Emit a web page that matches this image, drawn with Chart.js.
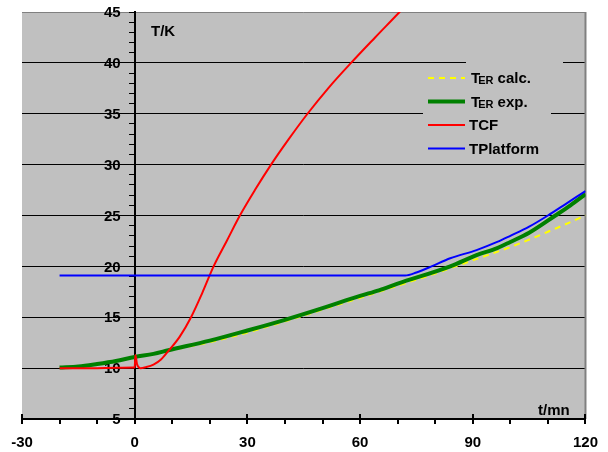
<!DOCTYPE html>
<html>
<head>
<meta charset="utf-8">
<script src="https://cdn.jsdelivr.net/npm/chart.js@4.4.0/dist/chart.umd.min.js"></script>
<style>
  html, body { margin: 0; padding: 0; background: #fff; }
  canvas { display: block; }
</style>
</head>
<body>
<canvas id="chart" width="608" height="452"></canvas>
<script>
// Values (t in mn, T in K)
const calcTime = [0, 10, 20, 30, 40, 50, 60, 70, 80, 90, 100, 110, 120];
const calcTemp = [11.1, 11.8, 12.55, 13.5, 14.6, 15.75, 16.9, 18.1, 19.3, 20.6, 21.9, 23.4, 25.0];

const expTime = [-20, -15, -10, -5, 0, 5, 9, 20, 30, 40, 50, 60, 65, 70, 84, 91, 96.5, 100, 105, 112, 116, 120];
const expTemp = [10.05, 10.15, 10.4, 10.7, 11.1, 11.4, 11.76, 12.7, 13.7, 14.75, 15.9, 17.1, 17.65, 18.3, 20.0, 21.1, 21.8, 22.4, 23.3, 25.0, 26.0, 27.1];

const tcfTime = [-20, -10, -0.3, 0, 0.2, 0.6, 1.5, 3, 5, 7, 9, 12, 15, 18, 21, 24.5, 28, 32, 36.3, 41, 46, 51.5, 57.6, 64, 70.5, 73];
const tcfTemp = [10.0, 10.0, 10.05, 10.1, 11.3, 10.4, 10.0, 10.1, 10.35, 10.85, 11.7, 13.1, 15.0, 17.4, 20.0, 22.5, 25.0, 27.5, 30.0, 32.5, 35.0, 37.5, 40.0, 42.5, 45.0, 46.0];

const platTime = [-20, 55, 72, 75, 79, 84, 91, 96.5, 100, 105, 110, 115, 120];
const platTemp = [19.1, 19.1, 19.1, 19.4, 20.0, 20.8, 21.6, 22.4, 23.0, 23.9, 25.0, 26.2, 27.4];

const xTickLabels = [-30, 0, 30, 60, 90, 120];
const yTickLabels = [5, 10, 15, 20, 25, 30, 35, 40, 45];

// Legend entries: main letter, subscript, rest
const legendItems = [
    { main: 'T', sub: 'ER', rest: ' calc.', color: '#ffff00', width: 2, dash: [6, 5] },
    { main: 'T', sub: 'ER', rest: ' exp.', color: '#008000', width: 4, dash: [] },
    { main: 'TCF', sub: '', rest: '', color: '#ff0000', width: 2, dash: [] },
    { main: 'TPlatform', sub: '', rest: '', color: '#0000ff', width: 2, dash: [] },
];

const FONT = '"Liberation Sans", Arial, sans-serif';

function toPoints(xs, ys) {
    return xs.map((x, i) => ({ x, y: ys[i] }));
}

// Background, frame, y labels, axis titles and legend
const chartDecor = {
    id: 'chartDecor',
    beforeDraw(chart) {
        const { ctx, chartArea: a } = chart;
        ctx.save();
        ctx.fillStyle = '#c0c0c0';
        ctx.fillRect(a.left, a.top, a.right - a.left, a.bottom - a.top);
        ctx.restore();
    },
    beforeDatasetsDraw(chart) {
        const { ctx, chartArea: a, scales } = chart;
        ctx.save();
        ctx.strokeStyle = '#808080';
        ctx.lineWidth = 2;
        ctx.beginPath();
        ctx.moveTo(a.right, a.top);
        ctx.lineTo(a.right, a.bottom);
        ctx.stroke();
        // major x ticks cross the axis
        ctx.strokeStyle = '#000';
        xTickLabels.forEach((v) => {
            const px = Math.round(scales.x.getPixelForValue(v));
            ctx.beginPath();
            ctx.moveTo(px, a.bottom - 5);
            ctx.lineTo(px, a.bottom);
            ctx.stroke();
        });
        // y labels sit left of the axis at t = 0
        const x0 = scales.x.getPixelForValue(0);
        ctx.fillStyle = '#000';
        ctx.font = 'bold 15px ' + FONT;
        ctx.textAlign = 'right';
        ctx.textBaseline = 'middle';
        yTickLabels.forEach((v) => {
            ctx.fillText(String(v), x0 - 14, scales.y.getPixelForValue(v) + 1);
        });
        ctx.restore();
    },
    afterDraw(chart) {
        const { ctx } = chart;
        ctx.save();
        ctx.fillStyle = '#000';
        ctx.font = 'bold 15px ' + FONT;
        ctx.textBaseline = 'middle';
        ctx.fillText('T/K', 151, 32);
        ctx.fillText('t/mn', 538, 411);

        // legend background hides the grid lines behind it
        ctx.fillStyle = '#c0c0c0';
        ctx.fillRect(466, 58, 97, 10);
        ctx.fillRect(423, 108, 128, 10);

        legendItems.forEach((item, i) => {
            const y = 78 + i * 23.5;
            ctx.strokeStyle = item.color;
            ctx.lineWidth = item.width;
            ctx.setLineDash(item.dash);
            ctx.beginPath();
            ctx.moveTo(428, y);
            ctx.lineTo(465, y);
            ctx.stroke();
            ctx.setLineDash([]);

            let x = i < 2 ? 471 : 469;
            ctx.fillStyle = '#000';
            ctx.textBaseline = 'alphabetic';
            ctx.font = 'bold 15px ' + FONT;
            ctx.fillText(item.main, x, y + 5);
            x += ctx.measureText(item.main).width;
            if (item.sub) {
                ctx.font = 'bold 11px ' + FONT;
                ctx.fillText(item.sub, x - 2, y + 6);
                x += ctx.measureText(item.sub).width - 2;
                ctx.font = 'bold 15px ' + FONT;
                ctx.fillText(item.rest, x, y + 5);
            }
        });
        ctx.restore();
    },
};

const lineStyle = { pointRadius: 0, fill: false, cubicInterpolationMode: 'monotone' };

new Chart(document.getElementById('chart'), {
    type: 'scatter',
    data: {
        datasets: [
            { label: 'TPlatform', data: toPoints(platTime, platTemp), showLine: true, borderColor: '#0000ff', borderWidth: 2, ...lineStyle },
            { label: 'TCF', data: toPoints(tcfTime, tcfTemp), showLine: true, borderColor: '#ff0000', borderWidth: 2, ...lineStyle },
            { label: 'TER exp.', data: toPoints(expTime, expTemp), showLine: true, borderColor: '#008000', borderWidth: 4, ...lineStyle },
            { label: 'TER calc.', data: toPoints(calcTime, calcTemp), showLine: true, borderColor: '#ffff00', borderWidth: 2, borderDash: [6, 5], ...lineStyle },
        ],
    },
    options: {
        responsive: false,
        animation: false,
        layout: { padding: { left: 22, right: 21, top: 12, bottom: 2 } },
        plugins: {
            legend: { display: false },
            tooltip: { enabled: false },
        },
        scales: {
            x: {
                type: 'linear',
                position: 'bottom',
                min: -30,
                max: 120,
                afterFit(scale) { scale.height = 31; },
                ticks: {
                    stepSize: 10,
                    autoSkip: false,
                    maxRotation: 0,
                    padding: 10,
                    color: '#000',
                    font: { family: FONT, size: 15, weight: 'bold' },
                    callback: (v) => (xTickLabels.includes(v) ? String(v) : ''),
                },
                grid: { drawOnChartArea: false, tickColor: '#000', tickLength: 5, lineWidth: 2 },
                border: { color: '#000', width: 2 },
            },
            y: {
                type: 'linear',
                position: { x: 0 },
                min: 5,
                max: 45,
                afterFit(scale) { scale.width = 0; },
                ticks: {
                    stepSize: 1,
                    autoSkip: false,
                    callback: () => '',
                },
                grid: {
                    color: (c) => {
                        const v = c.tick ? c.tick.value : null;
                        if (v === 45) return '#808080';
                        return yTickLabels.includes(v) ? '#000' : 'rgba(0,0,0,0)';
                    },
                    tickColor: '#000',
                    tickLength: 5,
                    lineWidth: 1,
                },
                border: { color: '#000', width: 2 },
            },
        },
    },
    plugins: [chartDecor],
});
</script>
</body>
</html>
